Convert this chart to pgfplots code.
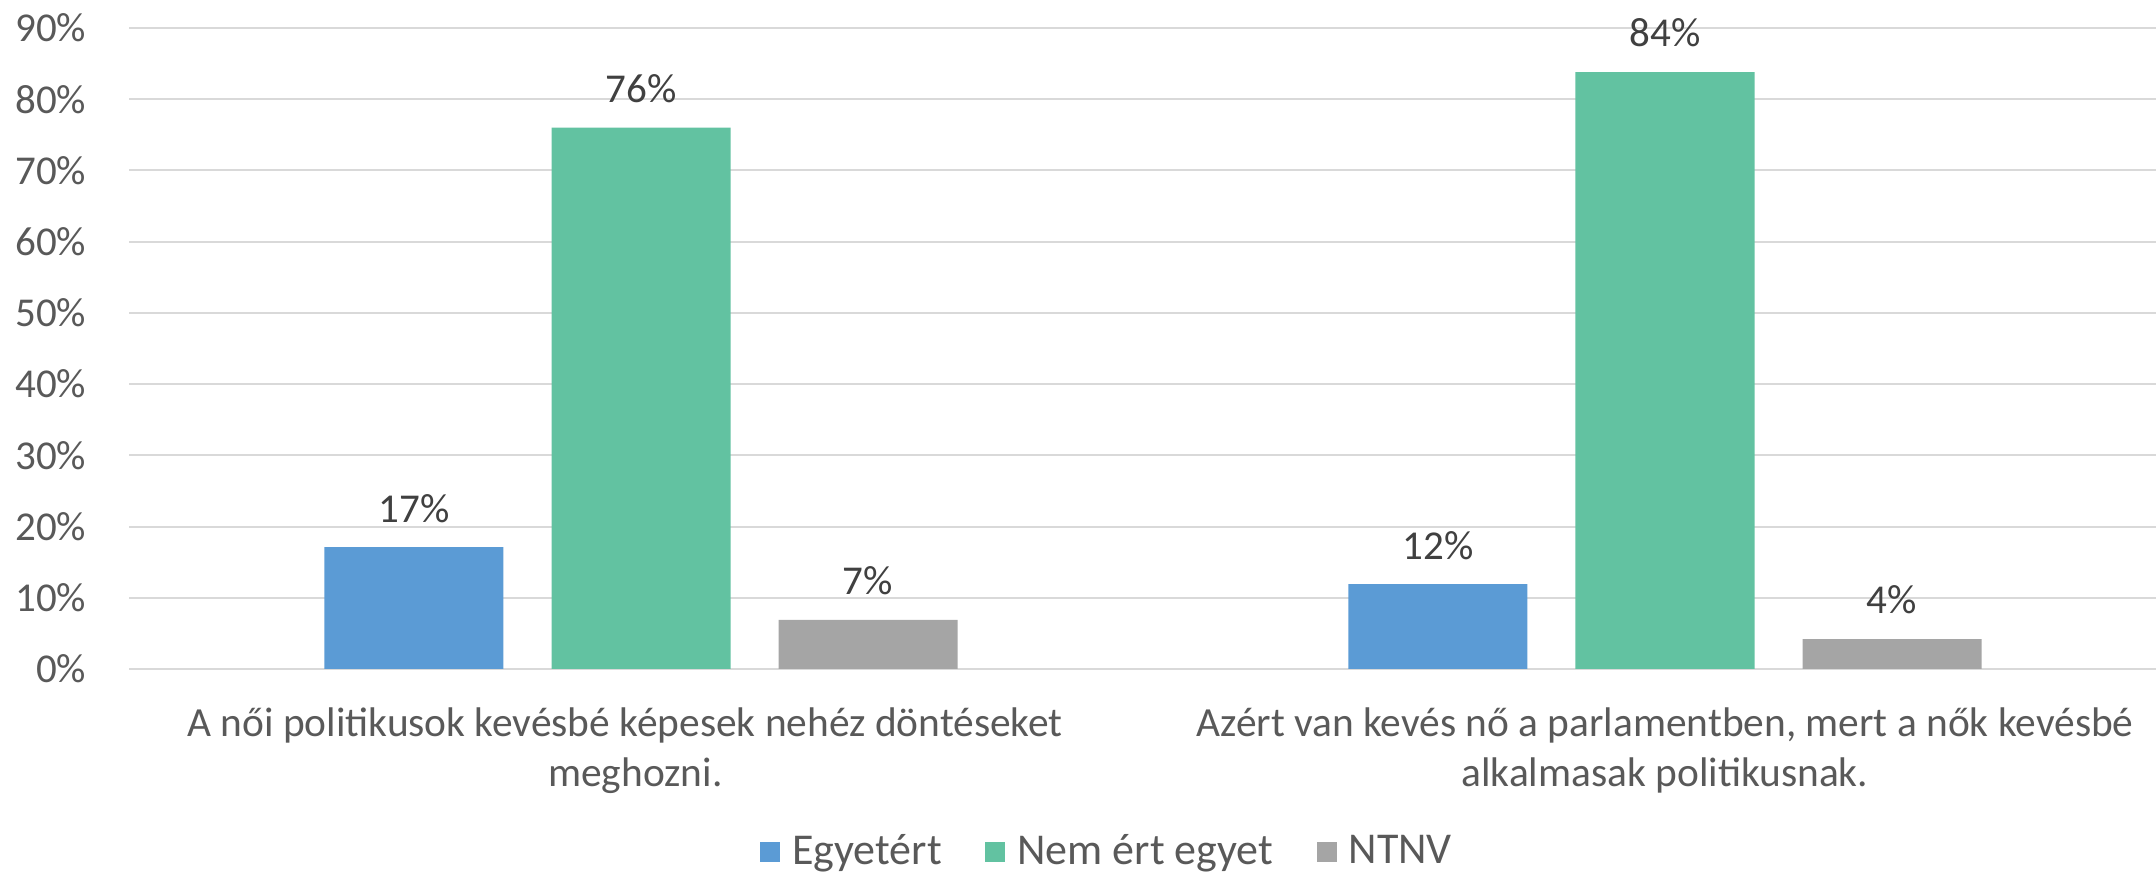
\documentclass[border=0pt]{standalone}
\usepackage{pgfplots}
\pgfplotsset{compat=1.18}
\usepackage{fontspec}
\setmainfont{Carlito}
\definecolor{cblue}{HTML}{5B9BD5}
\definecolor{cgreen}{HTML}{62C2A1}
\definecolor{cgray}{HTML}{A5A5A5}
\definecolor{cgrid}{HTML}{D9D9D9}
\definecolor{ctick}{HTML}{595959}
\definecolor{clabel}{HTML}{404040}
\begin{document}
\begin{tikzpicture}
\begin{axis}[
  at={(0,0)}, anchor=south west,
  scale only axis,
  width=506.75pt, height=160.25pt,
  xmin=-0.5, xmax=1.4795,
  ymin=0, ymax=90,
  axis line style={draw=none},
  clip=false,
  ybar=12pt, bar width=44.75pt,
  ymajorgrids, ytick={0,10,...,90},
  grid style={cgrid, line width=0.5pt},
  major tick length=0pt,
  /pgf/number format/assume math mode=true,
  yticklabel={\pgfmathprintnumber{\tick}\%},
  yticklabel style={font=\fontsize{10.25}{12}\selectfont, text=ctick, anchor=east, inner sep=0pt, xshift=-10.5pt},
  xtick={0,1},
  xticklabels={{A női politikusok kevésbé képesek nehéz döntéseket\hspace*{8pt}\\meghozni.\hspace*{2.8pt}},{Azért van kevés nő a parlamentben, mert a nők kevésbé\\alkalmasak politikusnak.}},
  xticklabel style={font=\fontsize{10.35}{12.6}\selectfont, text=ctick, align=center, anchor=north, inner sep=0pt, yshift=-9.5pt},
  point meta=explicit symbolic,
  nodes near coords={\pgfplotspointmeta},
  nodes near coords style={font=\fontsize{10.25}{12}\selectfont, text=clabel, anchor=south, inner sep=0pt, yshift=6pt},
  legend columns=3,
  legend style={draw=none, fill=none, at={(0.4835,-0.2855)}, anchor=center,
    font=\fontsize{11}{12.5}\selectfont, text=ctick,
    /tikz/every even column/.append style={column sep=9.4pt},
    /tikz/every odd column/.append style={column sep=1.5pt},
    nodes={inner sep=1.5pt}},
  legend image code/.code={\fill[#1, draw=none] (0pt,-2.5pt) rectangle (5pt,2.5pt);},
]
\addplot[fill=cblue, draw=none] coordinates {(0,17.1) [17\%] (1,11.9) [12\%]};
\addplot[fill=cgreen, draw=none] coordinates {(0,76.0) [76\%] (1,83.8) [84\%]};
\addplot[fill=cgray, draw=none] coordinates {(0,6.9) [7\%] (1,4.2) [4\%]};
\legend{Egyetért, Nem ért egyet, NTNV}
\end{axis}
\pgfresetboundingbox
\path (-32.25pt,-51.25pt) rectangle (506.75pt,167.25pt);
\end{tikzpicture}
\end{document}
